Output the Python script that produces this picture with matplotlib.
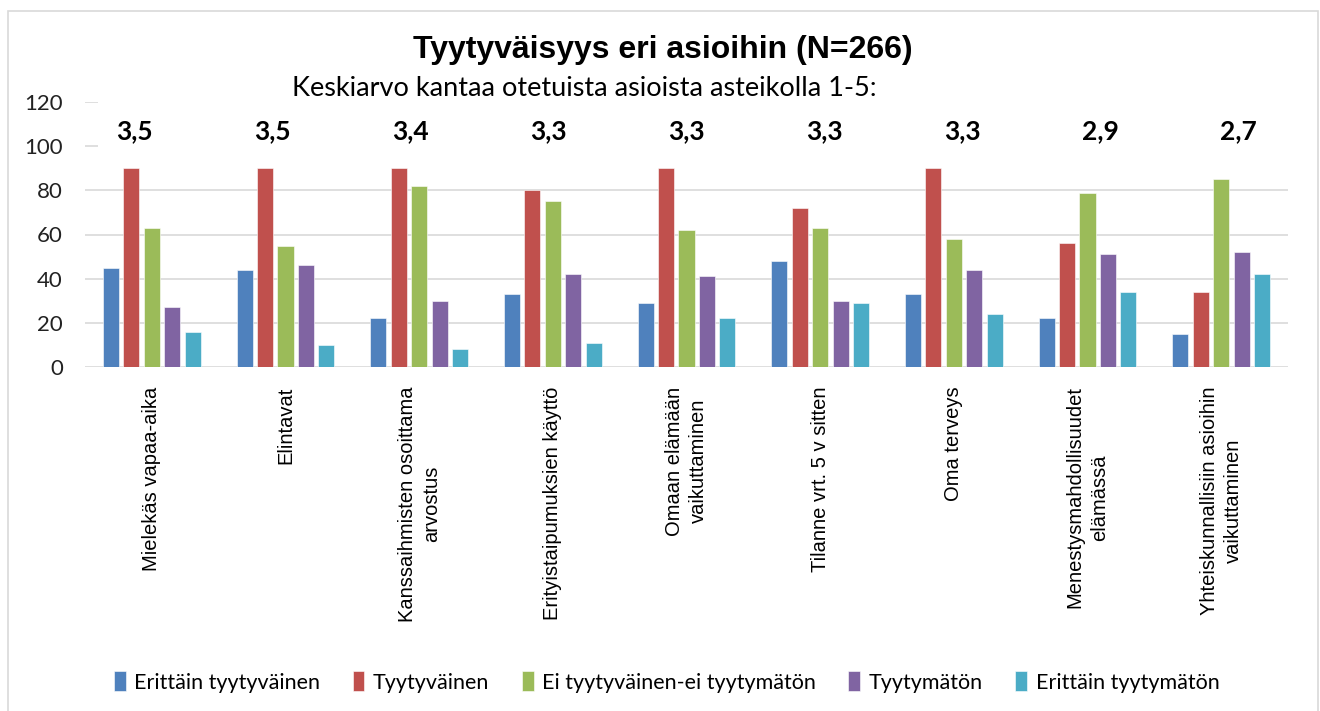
import numpy as np
import matplotlib.pyplot as plt
from matplotlib.patches import Rectangle

categories = ["Mielekäs vapaa-aika", "Elintavat", "Kanssaihmisten osoittama\narvostus",
              "Erityistaipumuksien käyttö", "Omaan elämään\nvaikuttaminen",
              "Tilanne vrt. 5 v sitten", "Oma terveys", "Menestysmahdollisuudet\nelämässä",
              "Yhteiskunnallisiin asioihin\nvaikuttaminen"]
series_names = ["Erittäin tyytyväinen", "Tyytyväinen", "Ei tyytyväinen-ei tyytymätön",
                "Tyytymätön", "Erittäin tyytymätön"]
erittain_tyytyvainen = [45, 44, 22, 33, 29, 48, 33, 22, 15]
tyytyvainen = [90, 90, 90, 80, 90, 72, 90, 56, 34]
neutraali = [63, 55, 82, 75, 62, 63, 58, 79, 85]
tyytymaton = [27, 46, 30, 42, 41, 30, 44, 51, 52]
erittain_tyytymaton = [16, 10, 8, 11, 22, 29, 24, 34, 42]
averages = ["3,5", "3,5", "3,4", "3,3", "3,3", "3,3", "3,3", "2,9", "2,7"]

colors = ["#4F81BD", "#C0504D", "#9BBB59", "#8064A2", "#4BACC6"]
series = [erittain_tyytyvainen, tyytyvainen, neutraali, tyytymaton, erittain_tyytymaton]

fig = plt.figure(figsize=(13.2, 7.11), dpi=100)
fig.patches.append(Rectangle((8 / 1320, -0.01), 1310 / 1320, 1 - 11 / 711 + 0.01,
                             transform=fig.transFigure, fill=False,
                             edgecolor="#D9D9D9", linewidth=1.2))
ax = fig.add_axes([85 / 1320, 1 - 367 / 711, 1203 / 1320, 265 / 711])

x = np.arange(len(categories))
pitch = 0.153
width = 0.12
for k, (vals, c, name) in enumerate(zip(series, colors, series_names)):
    ax.bar(x + (k - 2) * pitch, vals, width, color=c, label=name, zorder=3,
           edgecolor="white", linewidth=0.4)

ax.set_xlim(-0.5, len(categories) - 0.5)
ax.set_ylim(0, 120)
ax.set_yticks(range(0, 121, 20))
ax.yaxis.grid(True, color="#D9D9D9", linewidth=1.2, zorder=0)
ax.set_axisbelow(True)
for s in ax.spines.values():
    s.set_visible(False)
ax.tick_params(axis="y", length=0, pad=16, labelsize=16, labelcolor="#222222")
ax.tick_params(axis="x", length=0, pad=14)
ax.set_xticks(x)
ax.set_xticklabels(categories, rotation=90, fontsize=14.5, family="Liberation Sans",
                   multialignment="center", linespacing=1.35)
for lab in ax.get_yticklabels():
    lab.set_family("Lato")

# white box behind the average labels hides the top gridlines
ax.add_patch(Rectangle((-0.4, 95), 9.2, 30, facecolor="white", edgecolor="none",
                       zorder=2, clip_on=False))
for i, a in enumerate(averages):
    ax.text(i + (i - 4) * 0.032, 107, a, ha="center", va="center", fontsize=19,
            fontweight="bold", family="Lato", zorder=4)

fig.text(663 / 1320, 1 - 50 / 711, "Tyytyväisyys eri asioihin (N=266)", ha="center",
         va="center", fontsize=23, fontweight="bold", family="Liberation Sans")
fig.text(584 / 1320, 1 - 88 / 711, "Keskiarvo kantaa otetuista asioista asteikolla 1-5:",
         ha="center", va="center", fontsize=19.5, family="Lato")

fig.legend(loc="center", bbox_to_anchor=(0.505, 1 - 682 / 711), ncol=5, frameon=False,
           prop={"family": "Lato", "size": 15.5}, handlelength=0.55, handleheight=1.0,
           handletextpad=0.4, columnspacing=1.5)

fig.savefig("out.png", dpi=100)
